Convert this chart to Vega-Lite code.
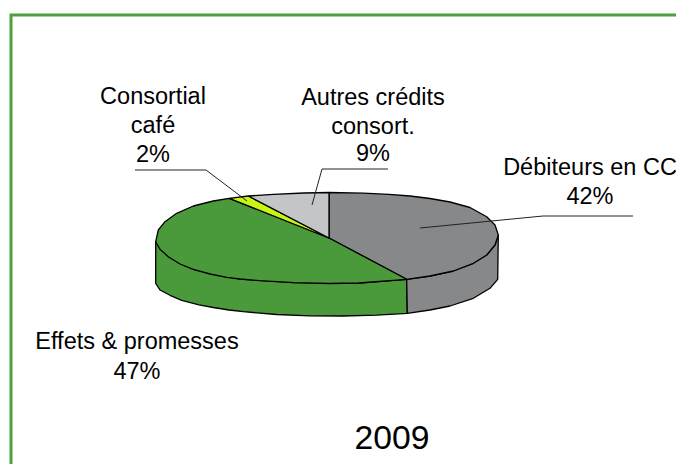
{"$schema":"https://vega.github.io/schema/vega-lite/v6.json","width":676,"height":464,"padding":0,"autosize":{"type":"none"},"background":"white","view":{"stroke":null},
"config":{"text":{"font":"Liberation Sans"}},
"datasets":{
"sides":[
{"part":"side green","slice":"Effets & promesses","seq":1,"x":77.7,"y":-41.3},{"part":"side green","slice":"Effets & promesses","seq":2,"x":30,"y":-45},{"part":"side green","slice":"Effets & promesses","seq":3,"x":-35,"y":-44.7},{"part":"side green","slice":"Effets & promesses","seq":4,"x":-89,"y":-41},{"part":"side green","slice":"Effets & promesses","seq":5,"x":-135.7,"y":-31.3},{"part":"side green","slice":"Effets & promesses","seq":6,"x":-160.7,"y":-18.7},{"part":"side green","slice":"Effets & promesses","seq":7,"x":-173.3,"y":-3.7},{"part":"side green","slice":"Effets & promesses","seq":8,"x":-173.3,"y":-45.3},{"part":"side green","slice":"Effets & promesses","seq":9,"x":-169,"y":-52},{"part":"side green","slice":"Effets & promesses","seq":10,"x":-159,"y":-57.3},{"part":"side green","slice":"Effets & promesses","seq":11,"x":-147.3,"y":-62.3},{"part":"side green","slice":"Effets & promesses","seq":12,"x":-130,"y":-66.8},{"part":"side green","slice":"Effets & promesses","seq":13,"x":-115.7,"y":-69.5},{"part":"side green","slice":"Effets & promesses","seq":14,"x":-100,"y":-72},{"part":"side green","slice":"Effets & promesses","seq":15,"x":-85.7,"y":-73.7},{"part":"side green","slice":"Effets & promesses","seq":16,"x":-52.3,"y":-76.5},{"part":"side green","slice":"Effets & promesses","seq":17,"x":-19,"y":-77.8},{"part":"side green","slice":"Effets & promesses","seq":18,"x":14,"y":-78},{"part":"side green","slice":"Effets & promesses","seq":19,"x":47.7,"y":-77.2},{"part":"side green","slice":"Effets & promesses","seq":20,"x":78.3,"y":-75.3},{"part":"side green","slice":"Effets & promesses","seq":21,"x":77.7,"y":-41.3},
{"part":"side grey","slice":"Débiteurs en CC","seq":1,"x":77.7,"y":-41.3},{"part":"side grey","slice":"Débiteurs en CC","seq":2,"x":101,"y":-38},{"part":"side grey","slice":"Débiteurs en CC","seq":3,"x":124.3,"y":-33},{"part":"side grey","slice":"Débiteurs en CC","seq":4,"x":144.3,"y":-25.3},{"part":"side grey","slice":"Débiteurs en CC","seq":5,"x":157.7,"y":-17},{"part":"side grey","slice":"Débiteurs en CC","seq":6,"x":166,"y":-7},{"part":"side grey","slice":"Débiteurs en CC","seq":7,"x":169.3,"y":3},{"part":"side grey","slice":"Débiteurs en CC","seq":8,"x":168.7,"y":-41.3},{"part":"side grey","slice":"Débiteurs en CC","seq":9,"x":161,"y":-50.3},{"part":"side grey","slice":"Débiteurs en CC","seq":10,"x":144.3,"y":-60.3},{"part":"side grey","slice":"Débiteurs en CC","seq":11,"x":121,"y":-68},{"part":"side grey","slice":"Débiteurs en CC","seq":12,"x":101,"y":-72},{"part":"side grey","slice":"Débiteurs en CC","seq":13,"x":78.3,"y":-75.3},{"part":"side grey","slice":"Débiteurs en CC","seq":14,"x":77.7,"y":-41.3}],
"tops":[
{"slice":"Débiteurs en CC","seq":1,"x":0,"y":45.5},{"slice":"Débiteurs en CC","seq":2,"x":34.3,"y":44.8},{"slice":"Débiteurs en CC","seq":3,"x":60,"y":43.6},{"slice":"Débiteurs en CC","seq":4,"x":81,"y":42},{"slice":"Débiteurs en CC","seq":5,"x":101,"y":39.5},{"slice":"Débiteurs en CC","seq":6,"x":121,"y":36},{"slice":"Débiteurs en CC","seq":7,"x":141,"y":30.5},{"slice":"Débiteurs en CC","seq":8,"x":157.7,"y":21.3},{"slice":"Débiteurs en CC","seq":9,"x":166,"y":13},{"slice":"Débiteurs en CC","seq":10,"x":169.3,"y":3},{"slice":"Débiteurs en CC","seq":11,"x":166,"y":-7},{"slice":"Débiteurs en CC","seq":12,"x":157.7,"y":-17},{"slice":"Débiteurs en CC","seq":13,"x":144.3,"y":-25.3},{"slice":"Débiteurs en CC","seq":14,"x":124.3,"y":-33},{"slice":"Débiteurs en CC","seq":15,"x":101,"y":-38},{"slice":"Débiteurs en CC","seq":16,"x":77.7,"y":-41.3},{"slice":"Débiteurs en CC","seq":17,"x":0,"y":0},{"slice":"Débiteurs en CC","seq":18,"x":0,"y":45.5},
{"slice":"Effets & promesses","seq":1,"x":77.7,"y":-41.3},{"slice":"Effets & promesses","seq":2,"x":30,"y":-45},{"slice":"Effets & promesses","seq":3,"x":0,"y":-45.5},{"slice":"Effets & promesses","seq":4,"x":-35,"y":-44.7},{"slice":"Effets & promesses","seq":5,"x":-70,"y":-42.6},{"slice":"Effets & promesses","seq":6,"x":-89,"y":-41},{"slice":"Effets & promesses","seq":7,"x":-102.3,"y":-39.3},{"slice":"Effets & promesses","seq":8,"x":-119,"y":-36},{"slice":"Effets & promesses","seq":9,"x":-135.7,"y":-31.3},{"slice":"Effets & promesses","seq":10,"x":-149,"y":-26},{"slice":"Effets & promesses","seq":11,"x":-160.7,"y":-18.7},{"slice":"Effets & promesses","seq":12,"x":-169,"y":-11.3},{"slice":"Effets & promesses","seq":13,"x":-173.3,"y":-3.7},{"slice":"Effets & promesses","seq":14,"x":-170.7,"y":8},{"slice":"Effets & promesses","seq":15,"x":-164,"y":16.3},{"slice":"Effets & promesses","seq":16,"x":-152.3,"y":24.7},{"slice":"Effets & promesses","seq":17,"x":-135.7,"y":32},{"slice":"Effets & promesses","seq":18,"x":-115.7,"y":37},{"slice":"Effets & promesses","seq":19,"x":-99.7,"y":39.7},{"slice":"Effets & promesses","seq":20,"x":0,"y":0},{"slice":"Effets & promesses","seq":21,"x":77.7,"y":-41.3},
{"slice":"Consortial café","seq":1,"x":-99.7,"y":39.7},{"slice":"Consortial café","seq":2,"x":-80.7,"y":42},{"slice":"Consortial café","seq":3,"x":0,"y":0},{"slice":"Consortial café","seq":4,"x":-99.7,"y":39.7},
{"slice":"Autres crédits consort.","seq":1,"x":-80.7,"y":42},{"slice":"Autres crédits consort.","seq":2,"x":-55.7,"y":43.7},{"slice":"Autres crédits consort.","seq":3,"x":-25,"y":45},{"slice":"Autres crédits consort.","seq":4,"x":0,"y":45.5},{"slice":"Autres crédits consort.","seq":5,"x":0,"y":0},{"slice":"Autres crédits consort.","seq":6,"x":-80.7,"y":42}],
"leaders":[
{"slice":"Consortial café","seq":1,"x":-194,"y":68},{"slice":"Consortial café","seq":2,"x":-123,"y":68},{"slice":"Consortial café","seq":3,"x":-82,"y":37},
{"slice":"Autres crédits consort.","seq":1,"x":59,"y":69},{"slice":"Autres crédits consort.","seq":2,"x":-7,"y":69},{"slice":"Autres crédits consort.","seq":3,"x":-17,"y":33},
{"slice":"Débiteurs en CC","seq":1,"x":304,"y":22},{"slice":"Débiteurs en CC","seq":2,"x":214,"y":22},{"slice":"Débiteurs en CC","seq":3,"x":91,"y":10}],
"frame":[{"seq":1,"x":-318,"y":-226},{"seq":2,"x":-318,"y":223},{"seq":3,"x":347,"y":223}],
"labels":[
{"label":"Consortial","x":-176,"y":134},{"label":"café","x":-176,"y":105},{"label":"2%","x":-176,"y":76},
{"label":"Autres crédits","x":44,"y":133},{"label":"consort.","x":44,"y":104},{"label":"9%","x":44,"y":77},
{"label":"Débiteurs en CC","x":261,"y":63},{"label":"42%","x":261,"y":34},
{"label":"Effets & promesses","x":-192,"y":-111},{"label":"47%","x":-192,"y":-141}],
"year":[{"label":"2009","x":63,"y":-211}]},
"encoding":{"x":{"field":"x","type":"quantitative","axis":null,"scale":{"domain":[-329,347],"nice":false,"zero":false}},"y":{"field":"y","type":"quantitative","axis":null,"scale":{"domain":[-226,238],"nice":false,"zero":false}}},
"layer":[
{"data":{"name":"frame"},"mark":{"type":"line","stroke":"#4f9f40","strokeWidth":3,"clip":true},"encoding":{"order":{"field":"seq"}}},
{"data":{"name":"sides"},"mark":{"type":"line","filled":true,"stroke":"black","strokeWidth":1.3,"strokeJoin":"round"},"encoding":{"order":{"field":"seq"},"detail":{"field":"part"},"color":{"field":"slice","type":"nominal","legend":null,"scale":{"domain":["Débiteurs en CC","Effets & promesses","Consortial café","Autres crédits consort."],"range":["#87888a","#4a9a3c","#c8f514","#c4c5c7"]}}}},
{"data":{"name":"tops"},"mark":{"type":"line","filled":true,"stroke":"black","strokeWidth":1.3,"strokeJoin":"round"},"encoding":{"order":{"field":"seq"},"detail":{"field":"slice"},"color":{"field":"slice","type":"nominal","legend":null,"scale":{"domain":["Débiteurs en CC","Effets & promesses","Consortial café","Autres crédits consort."],"range":["#87888a","#4a9a3c","#c8f514","#c4c5c7"]}}}},
{"data":{"name":"leaders"},"mark":{"type":"line","stroke":"#222222","strokeWidth":1},"encoding":{"order":{"field":"seq"},"detail":{"field":"slice"}}},
{"data":{"name":"labels"},"mark":{"type":"text","fontSize":23.5,"align":"center","baseline":"alphabetic","color":"#000000"},"encoding":{"text":{"field":"label"}}},
{"data":{"name":"year"},"mark":{"type":"text","fontSize":33.7,"align":"center","baseline":"alphabetic","color":"#000000"},"encoding":{"text":{"field":"label"}}}
]}
